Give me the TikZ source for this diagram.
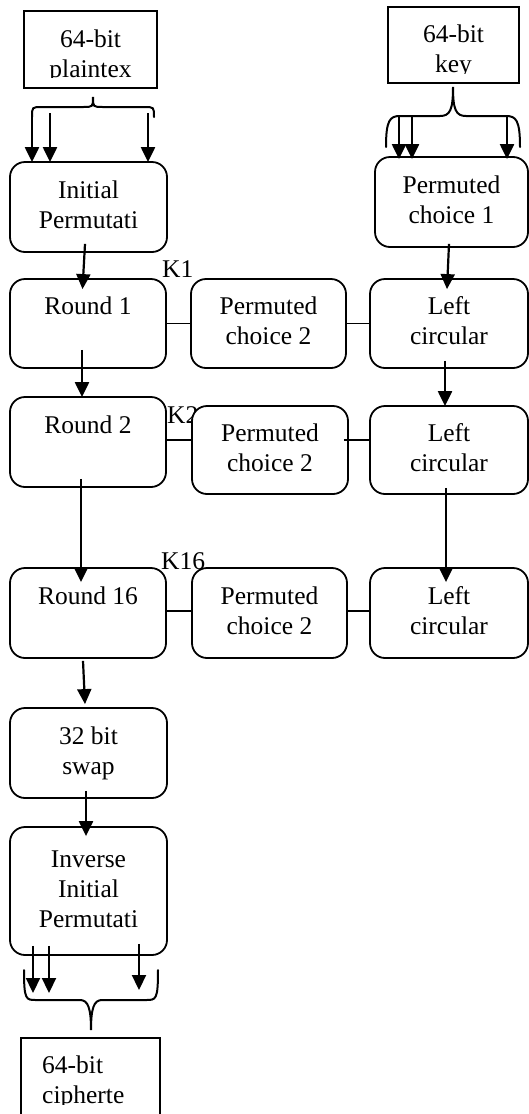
\documentclass[tikz,border=0pt]{standalone}
\usepackage{fontspec}
\setmainfont{Liberation Serif}
\usetikzlibrary{arrows.meta,calc}
\begin{document}
\begin{tikzpicture}[x=1pt,y=-1pt,
  every node/.style={font=\fontsize{25.5}{30}\selectfont},
  rbox/.style={draw, line width=1.8pt, rounded corners=15pt, fill=white, align=center, inner sep=0pt},
  sbox/.style={draw, line width=1.8pt, fill=white, inner sep=0pt},
  txt/.style={inner sep=0pt, align=center},
  arr/.style={line width=2.2pt, -{Triangle[width=14pt,length=15pt]}},
  link/.style={line width=1.8pt},
  brace/.style={line width=2pt, line cap=round}]
\useasboundingbox (0,0) rectangle (529,1114);

% key labels (drawn first, boxes overlap them)
\node[txt, anchor=base west] (k1) at (162,277) {K1};
\node[txt, anchor=base west] (k2) at (167,423) {K2};
\node[txt, anchor=base west] (k16) at (161,569) {K16};

% input boxes
\node[sbox, minimum width=133pt, minimum height=77pt] (pt) at (90.5,49.5) {};
\begin{scope}
\clip (pt.north west) rectangle (157,77.5);
\node[txt] (ptt) at (90.5,56) {\strut 64-bit\\\strut plaintex};
\end{scope}
\node[sbox, minimum width=131pt, minimum height=76pt] (key) at (453.5,45) {};
\begin{scope}
\clip (key.north west) rectangle (519,73.5);
\node[txt] (keyt) at (453.5,51.5) {\strut 64-bit\\\strut key};
\end{scope}

% main boxes
\node[rbox, minimum width=157pt, minimum height=90pt] (ip) at (88.5,207) {\strut Initial\\\strut Permutati};
\node[rbox, minimum width=153pt, minimum height=90pt] (pc1) at (451.5,202) {\strut Permuted\\\strut choice 1};

\node[rbox, minimum width=156pt, minimum height=89pt] (r1) at (88,323.5) {\strut Round 1\\\strut};
\node[rbox, minimum width=155pt, minimum height=89pt] (pca) at (268.5,323.5) {\strut Permuted\\\strut choice 2};
\node[rbox, minimum width=158pt, minimum height=89pt] (lca) at (449,323.5) {\strut Left\\\strut circular};

\node[rbox, minimum width=156pt, minimum height=90pt] (r2) at (88,442) {\strut Round 2\\\strut};
\node[rbox, minimum width=156pt, minimum height=88pt] (pcb) at (270,450) {\strut Permuted\\\strut choice 2};
\node[rbox, minimum width=158pt, minimum height=88pt] (lcb) at (449,450) {\strut Left\\\strut circular};

\node[rbox, minimum width=156pt, minimum height=90pt] (r16) at (88,613) {\strut Round 16\\\strut};
\node[rbox, minimum width=155pt, minimum height=90pt] (pcc) at (269.5,613) {\strut Permuted\\\strut choice 2};
\node[rbox, minimum width=158pt, minimum height=90pt] (lcc) at (449,613) {\strut Left\\\strut circular};

\node[rbox, minimum width=157pt, minimum height=90pt] (sw) at (88.5,753) {\strut 32 bit\\\strut swap};
\node[rbox, minimum width=157pt, minimum height=128pt] (iip) at (88.5,891) {\strut Inverse\\\strut Initial\\\strut Permutati};

\node[sbox, minimum width=139pt, minimum height=90pt] (ct) at (90.5,1083) {};
\begin{scope}
\clip (ct.north west) rectangle (160,1104.5);
\node[txt, align=left, anchor=west] (ctt) at (42,1082) {\strut 64-bit\\\strut cipherte};
\end{scope}

% braces
\draw[brace] (32,117) .. controls (32,107) .. (42,107) -- (83,107)
  .. controls (93,107) .. (93,97) .. controls (93,107) .. (103,107)
  -- (144,107) .. controls (154,107) .. (154,117);
\draw[brace] (386,147) .. controls (386,120) and (390,116) .. (400,116) -- (440,116)
  .. controls (450,116) and (453,110) .. (453,87) .. controls (453,110) and (456,116) .. (466,116)
  -- (506,116) .. controls (516,116) and (520,120) .. (520,147);
\draw[brace] (24,970) .. controls (24,1000) and (26,1000) .. (36,1000) -- (80,1000)
  .. controls (88,1000) and (91,1008) .. (91,1030) .. controls (91,1008) and (94,1000) .. (102,1000)
  -- (146,1000) .. controls (156,1000) and (158,1000) .. (158,970);

% free arrow ends
\coordinate (pa1) at (32,117);
\coordinate (pa2) at (50,113);
\coordinate (pa3) at (148,113);
\coordinate (ka1) at (399,115);
\coordinate (ka2) at (412,115);
\coordinate (ka3) at (507,115);
\coordinate (ca1) at (33,993);
\coordinate (ca2) at (49,993);
\coordinate (ca3) at (139,990);

% arrows
\draw[arr] (pa1) -- ([xshift=-56.5pt,yshift=-1pt]ip.north);
\draw[arr] (pa2) -- ([xshift=-38.5pt,yshift=-1pt]ip.north);
\draw[arr] (pa3) -- ([xshift=59.5pt,yshift=-1pt]ip.north);
\draw[arr] (ka1) -- ([xshift=-52.5pt,yshift=-3pt]pc1.north);
\draw[arr] (ka2) -- ([xshift=-39.5pt,yshift=-3pt]pc1.north);
\draw[arr] (ka3) -- ([xshift=55.5pt,yshift=-3pt]pc1.north);

\draw[arr] ([xshift=-3.5pt,yshift=9pt]ip.south) -- ([xshift=-5.5pt,yshift=-11pt]r1.north);
\draw[arr] ([xshift=-2.5pt,yshift=4pt]pc1.south) -- ([xshift=-2pt,yshift=-11pt]lca.north);
\draw[arr] ([xshift=-6pt,yshift=19pt]r1.south) -- ([xshift=-6pt,yshift=-1pt]r2.north);
\draw[arr] ([xshift=-4pt,yshift=8pt]lca.south) -- ([xshift=-4pt,yshift=-1pt]lcb.north);
\draw[arr] ([xshift=-7pt,yshift=9pt]r2.south) -- ([xshift=-7pt,yshift=-15pt]r16.north);
\draw[arr] ([xshift=-3pt,yshift=7pt]lcb.south) -- ([xshift=-3pt,yshift=-15pt]lcc.north);
\draw[arr] ([xshift=-5pt,yshift=-2pt]r16.south) -- ([xshift=-3.5pt,yshift=3pt]sw.north);
\draw[arr] ([xshift=-2.5pt,yshift=8pt]sw.south) -- ([xshift=-2.5pt,yshift=-10pt]iip.north);
\draw[arr] ([xshift=-55.5pt,yshift=10pt]iip.south) -- (ca1);
\draw[arr] ([xshift=-39.5pt,yshift=10pt]iip.south) -- (ca2);
\draw[arr] ([xshift=50.5pt,yshift=12pt]iip.south) -- (ca3);

% links
\draw[link] (r1.east) -- (pca.west);
\draw[link] (pca.east) -- (lca.west);
\draw[link] ([yshift=2pt]r2.east) -- ([yshift=2pt]r2.east -| pcb.west);
\draw[link] ([xshift=-5pt,yshift=10pt]pcb.east) -- ([yshift=10pt]pcb.east -| lcb.west);
\draw[link] ([yshift=2pt]r16.east) -- ([yshift=2pt]r16.east -| pcc.west);
\draw[link] ([yshift=2pt]pcc.east) -- ([yshift=2pt]pcc.east -| lcc.west);
\end{tikzpicture}
\end{document}
